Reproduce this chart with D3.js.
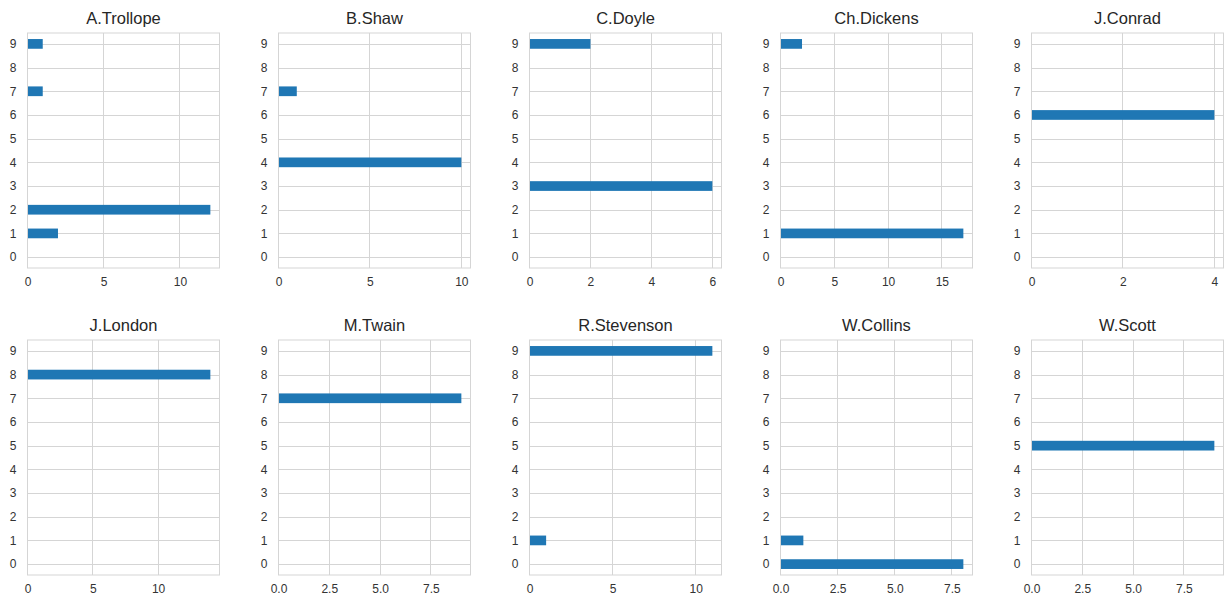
<!DOCTYPE html>
<html>
<head>
<meta charset="utf-8">
<script src="https://cdn.jsdelivr.net/npm/d3@7"></script>
<style>
  html, body { margin: 0; padding: 0; background: #fff; }
  svg { display: block; }
  text { font-family: "Liberation Sans", Arial, sans-serif; }
</style>
</head>
<body>
<svg id="chart" width="1228" height="603"></svg>
<script>
// ---- data ----
const authors = ["A.Trollope", "B.Shaw", "C.Doyle", "Ch.Dickens", "J.Conrad",
                 "J.London", "M.Twain", "R.Stevenson", "W.Collins", "W.Scott"];
const categories = [0, 1, 2, 3, 4, 5, 6, 7, 8, 9];

const trollope  = [0, 2, 12, 0, 0, 0, 0, 1, 0, 1];
const shaw      = [0, 0, 0, 0, 10, 0, 0, 1, 0, 0];
const doyle     = [0, 0, 0, 6, 0, 0, 0, 0, 0, 2];
const dickens   = [0, 17, 0, 0, 0, 0, 0, 0, 0, 2];
const conrad    = [0, 0, 0, 0, 0, 0, 4, 0, 0, 0];
const london    = [0, 0, 0, 0, 0, 0, 0, 0, 14, 0];
const twain     = [0, 0, 0, 0, 0, 0, 0, 9, 0, 0];
const stevenson = [0, 1, 0, 0, 0, 0, 0, 0, 0, 11];
const collins   = [8, 1, 0, 0, 0, 0, 0, 0, 0, 0];
const scott     = [0, 0, 0, 0, 0, 9, 0, 0, 0, 0];

const ticksTrollope  = [0, 5, 10];
const ticksShaw      = [0, 5, 10];
const ticksDoyle     = [0, 2, 4, 6];
const ticksDickens   = [0, 5, 10, 15];
const ticksConrad    = [0, 2, 4];
const ticksLondon    = [0, 5, 10];
const ticksTwain     = [0, 2.5, 5, 7.5];
const ticksStevenson = [0, 5, 10];
const ticksCollins   = [0, 2.5, 5, 7.5];
const ticksScott     = [0, 2.5, 5, 7.5];

const seriesList = [trollope, shaw, doyle, dickens, conrad, london, twain, stevenson, collins, scott];
const tickList = [ticksTrollope, ticksShaw, ticksDoyle, ticksDickens, ticksConrad,
                  ticksLondon, ticksTwain, ticksStevenson, ticksCollins, ticksScott];

// ---- layout ----
const svg = d3.select("#chart");
const panelW = 192, panelH = 235;
const lefts = [27.5, 278.5, 529.5, 780.5, 1031.5];
const tops = [33, 340];
const barColor = "#1f77b4";
const gridColor = "#d5d5d5";
const textColor = "#333";

authors.forEach((name, i) => {
  const col = i % 5, row = Math.floor(i / 5);
  const vals = seriesList[i];
  const ticks = tickList[i];
  const xmax = d3.max(vals) * 1.05;

  const x = d3.scaleLinear().domain([0, xmax]).range([0, panelW]);
  const y = d3.scaleLinear().domain([-0.46, 9.46]).range([panelH, 0]);
  const barH = y(0) - y(0.41);

  const g = svg.append("g").attr("transform", `translate(${lefts[col]},${tops[row]})`);

  // grid lines
  g.append("g").selectAll("line.v").data(ticks).join("line")
    .attr("x1", d => Math.round(x(d))).attr("x2", d => Math.round(x(d)))
    .attr("y1", 0).attr("y2", panelH)
    .attr("stroke", gridColor).attr("stroke-width", 1);
  g.append("g").selectAll("line.h").data(categories).join("line")
    .attr("x1", 0).attr("x2", panelW)
    .attr("y1", d => Math.round(y(d)) + 0.5).attr("y2", d => Math.round(y(d)) + 0.5)
    .attr("stroke", gridColor).attr("stroke-width", 1);

  // bars
  g.append("g").selectAll("rect").data(categories.map(c => ({ c, v: vals[c] })).filter(d => d.v > 0))
    .join("rect")
    .attr("x", x(0))
    .attr("y", d => y(d.c) - barH / 2)
    .attr("width", d => x(d.v) - x(0))
    .attr("height", barH)
    .attr("fill", barColor);

  // frame
  g.append("rect").attr("x", 0).attr("y", 0).attr("width", panelW).attr("height", panelH)
    .attr("fill", "none").attr("stroke", gridColor).attr("stroke-width", 1);

  // axes (labels only)
  const fmt = ticks.some(t => !Number.isInteger(t)) ? d3.format(".1f") : d3.format("d");
  const xAxis = d3.axisBottom(x).tickValues(ticks).tickFormat(fmt).tickSize(0).tickPadding(9);
  const xa = g.append("g").attr("transform", `translate(0,${panelH})`).call(xAxis);
  xa.select(".domain").remove();
  xa.selectAll("text").attr("fill", textColor).style("font-size", "12px")
    .style("font-family", '"Liberation Sans", Arial, sans-serif');

  const yAxis = d3.axisLeft(y).tickValues(categories).tickFormat(d3.format("d")).tickSize(0).tickPadding(11);
  const ya = g.append("g").call(yAxis);
  ya.select(".domain").remove();
  ya.selectAll("text").attr("fill", textColor).style("font-size", "12px")
    .style("font-family", '"Liberation Sans", Arial, sans-serif');

  // title
  g.append("text").attr("x", panelW / 2).attr("y", -9)
    .attr("text-anchor", "middle").attr("fill", "#262626")
    .style("font-size", "16.5px").text(name);
});
</script>
</body>
</html>
